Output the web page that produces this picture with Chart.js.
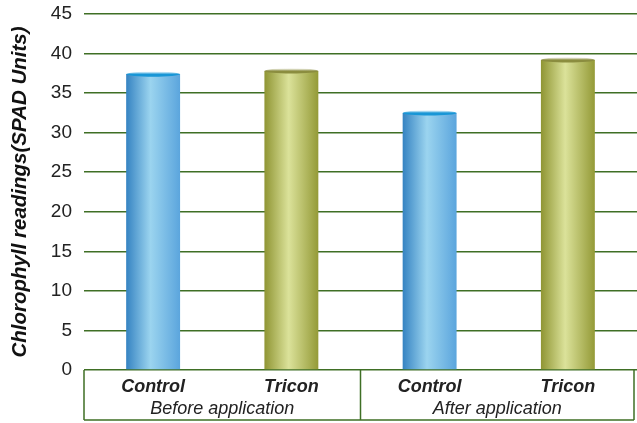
<!DOCTYPE html>
<html>
<head>
<meta charset="utf-8">
<script src="https://cdn.jsdelivr.net/npm/chart.js@4"></script>
<style>
  html, body { margin: 0; padding: 0; background: #fff; }
  #wrap { width: 637px; height: 423px; }
</style>
</head>
<body>
<div id="wrap"><canvas id="chart" width="637" height="423"></canvas></div>
<script>
// chlorophyll SPAD readings, before / after application
const categories = ["Control", "Tricon", "Control", "Tricon"];
const groups = ["Before application", "After application"];
const values = [37.4, 37.8, 32.5, 39.2];
const yTicks = [0, 5, 10, 15, 20, 25, 30, 35, 40, 45];

const palette = {
  blue: { left: "#3583c2", mid: "#9bd4ef", right: "#5ba5dd", top: "#1896d6" },
  olive: { left: "#8f9533", mid: "#dbe29a", right: "#949a37", top: "#8b8d3f" },
};
const kinds = ["blue", "olive", "blue", "olive"];
const gridGreen = "#3f6f25";
const FONT = "'Liberation Sans', Arial, sans-serif";
const BAR_PCT = 0.39;

function barFill(c) {
  const p = palette[kinds[c.dataIndex]];
  const xs = c.chart.scales.x;
  if (!xs || !xs.width) return p.mid;
  const cx = xs.getPixelForValue(c.dataIndex);
  const w = (xs.width / categories.length) * BAR_PCT;
  const g = c.chart.ctx.createLinearGradient(cx - w / 2, 0, cx + w / 2, 0);
  g.addColorStop(0, p.left);
  g.addColorStop(0.45, p.mid);
  g.addColorStop(1, p.right);
  return g;
}

// ellipse caps on bars + the boxed category axis
const cylinder = {
  id: "cylinder",
  afterDatasetsDraw(chart) {
    const ctx = chart.ctx;
    chart.getDatasetMeta(0).data.forEach((bar, i) => {
      const p = palette[kinds[i]];
      const g = ctx.createLinearGradient(0, bar.y - 3, 0, bar.y + 3);
      g.addColorStop(0, "rgba(255,255,255,0.5)");
      g.addColorStop(0.5, p.top);
      g.addColorStop(1, p.top);
      ctx.save();
      ctx.fillStyle = g;
      ctx.beginPath();
      ctx.ellipse(bar.x, bar.y, bar.width / 2, 2.6, 0, 0, Math.PI * 2);
      ctx.fill();
      ctx.restore();
    });
  },
  afterDraw(chart) {
    const ctx = chart.ctx;
    const xs = chart.scales.x;
    const area = chart.chartArea;
    const top = area.bottom, bottom = top + 50;
    const left = area.left, right = area.right - 3;
    const mid = (xs.getPixelForValue(1) + xs.getPixelForValue(2)) / 2;
    ctx.save();
    ctx.strokeStyle = gridGreen;
    ctx.lineWidth = 1.5;
    ctx.beginPath();
    ctx.moveTo(left, top); ctx.lineTo(left, bottom);
    ctx.moveTo(mid, top); ctx.lineTo(mid, bottom);
    ctx.moveTo(right, top); ctx.lineTo(right, bottom);
    ctx.moveTo(left, bottom); ctx.lineTo(right, bottom);
    ctx.stroke();
    ctx.fillStyle = "#222";
    ctx.font = "italic 18px " + FONT;
    ctx.textAlign = "center";
    ctx.textBaseline = "middle";
    ctx.fillText(groups[0], (left + mid) / 2, top + 39);
    ctx.fillText(groups[1], (mid + right) / 2, top + 39);
    ctx.restore();
  },
};

new Chart(document.getElementById("chart"), {
  type: "bar",
  data: {
    labels: categories,
    datasets: [
      {
        data: values,
        backgroundColor: barFill,
        borderWidth: 0,
        barPercentage: BAR_PCT,
        categoryPercentage: 1,
      },
    ],
  },
  options: {
    responsive: false,
    animation: false,
    layout: { padding: { top: 14, right: 0, left: 0, bottom: 3 } },
    plugins: { legend: { display: false }, tooltip: { enabled: false } },
    scales: {
      x: {
        grid: { display: false },
        border: { display: false },
        ticks: {
          color: "#222",
          padding: -2,
          font: { family: FONT, size: 18, style: "italic", weight: "bold" },
        },
        afterFit: (s) => { s.height = 50; },
      },
      y: {
        min: 0,
        max: 45,
        afterBuildTicks: (s) => { s.ticks = yTicks.map((v) => ({ value: v })); },
        grid: { color: gridGreen, lineWidth: 1.6, drawTicks: false },
        border: { display: false },
        ticks: {
          color: "#222",
          padding: 12,
          font: { family: FONT, size: 19 },
        },
        title: {
          display: true,
          text: "Chlorophyll readings(SPAD Units)",
          color: "#111",
          padding: { top: 8, bottom: 0 },
          font: { family: FONT, size: 20.5, style: "italic", weight: "bold" },
        },
        afterFit: (s) => { s.width = 84; s.paddingTop = 0; s.paddingBottom = 0; },
      },
    },
  },
  plugins: [cylinder],
});
</script>
</body>
</html>
